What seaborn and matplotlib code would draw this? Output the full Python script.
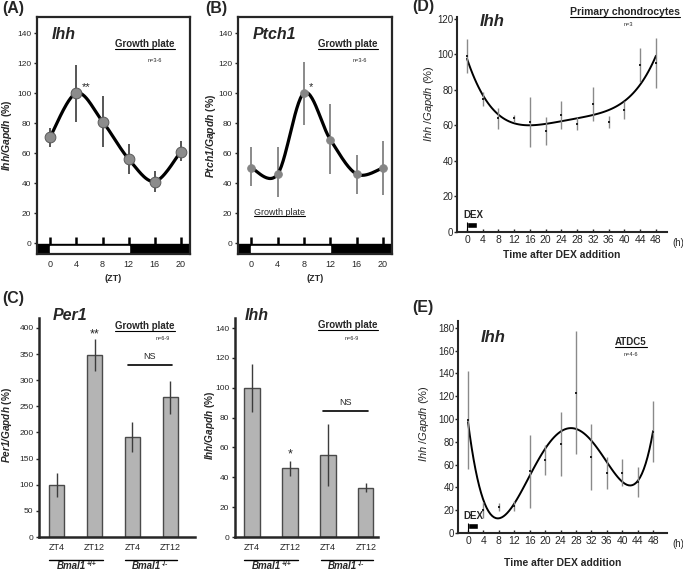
import numpy as np
import pandas as pd
import matplotlib.pyplot as plt
import seaborn as sns
from matplotlib.lines import Line2D

# ---- data ----
zt = [0, 4, 8, 12, 16, 20]
light_on, light_off = 0, 12

ihh_gp = [71, 100, 81, 56, 41, 61]
ihh_gp_lo = [64, 81, 64, 46, 34, 55]
ihh_gp_hi = [77, 119, 98, 66, 48, 68]

ptch1_gp = [50, 46, 100, 69, 46, 50]
ptch1_lo = [38, 31, 79, 46, 33, 32]
ptch1_hi = [64, 64, 121, 93, 59, 68]

bar_keys = ['WT ZT4', 'WT ZT12', 'KO ZT4', 'KO ZT12']
bar_labels = ['ZT4', 'ZT12', 'ZT4', 'ZT12']
genotypes = ['+/+', '-/-']
per1_c = [100, 348, 191, 267]
per1_c_err = [23, 31, 29, 31]
ihh_c = [100, 46, 55, 33]
ihh_c_err = [16, 5, 21, 3]

dex_h = [0, 4, 8, 12, 16, 20, 24, 28, 32, 36, 40, 44, 48]
dex_on, dex_off = 0, 2.5
ihh_prim = [99, 75, 64, 64, 62, 57, 66, 61, 72, 62, 68.5, 94, 95]
ihh_prim_err = [9.5, 4, 6, 2, 14, 8, 8, 3.5, 9.5, 3.5, 5, 9.5, 14]
ihh_atdc = [99.5, 20, 23, 24, 54, 64, 78, 123, 67, 53, 53, 45, 89]
ihh_atdc_err = [43, 7, 3.5, 4.5, 32, 13, 28, 54, 29, 14, 12, 13, 27]

sns.set_style('ticks')
plt.rcParams['font.family'] = ['Liberation Sans', 'DejaVu Sans']
plt.rcParams['mathtext.fontset'] = 'custom'
plt.rcParams['mathtext.rm'] = 'Liberation Sans'
plt.rcParams['mathtext.it'] = 'Liberation Sans:italic'
plt.rcParams['mathtext.bf'] = 'Liberation Sans:bold'
plt.rcParams['mathtext.bfit'] = 'Liberation Sans:bold:italic'

W, H = 683, 571
fig = plt.figure(figsize=(W / 100, H / 100), dpi=100)


def box(l, t, r, b):
    return [l / W, 1 - b / H, (r - l) / W, (b - t) / H]


def ftext(x, y, s, **kw):
    return fig.text(x / W, 1 - y / H, s, **kw)


underlined = []
with_sup = []


def smooth(xs, ys, n=30):
    # smoothed line through the points (Catmull-Rom, like a spreadsheet "smoothed line")
    x = np.asarray(xs, float)
    y = np.asarray(ys, float)
    px = np.r_[x[0], x, x[-1]]
    py = np.r_[y[0], y, y[-1]]
    t = np.linspace(0, 1, n)
    h00 = 2 * t**3 - 3 * t**2 + 1
    h10 = t**3 - 2 * t**2 + t
    h01 = -2 * t**3 + 3 * t**2
    h11 = t**3 - t**2
    ox, oy = [], []
    for i in range(1, len(px) - 2):
        ox.append(h00 * px[i] + h10 * (px[i + 1] - px[i - 1]) / 2 + h01 * px[i + 1] + h11 * (px[i + 2] - px[i]) / 2)
        oy.append(h00 * py[i] + h10 * (py[i + 1] - py[i - 1]) / 2 + h01 * py[i + 1] + h11 * (py[i + 2] - py[i]) / 2)
    return np.concatenate(ox), np.concatenate(oy)


# ---------- (A) and (B): growth plate time course ----------
def zt_panel(rect, vals, lo, hi, gene, ylab, lx, ms, ecol, mcol, medge):
    ax = fig.add_axes(box(*rect))
    ax.set_xlim(-2.05, 21.4)
    ax.set_ylim(-7.33, 150.7)
    ax.axhspan(-7.33, -0.8, color='black', zorder=1)
    ax.broken_barh([(light_on, light_off - light_on)], (-6.1, 4.2), facecolors='white', zorder=2)
    ax.vlines(zt, -0.8, 4.2, colors='black', lw=1.8, zorder=2)
    ax.vlines(zt, lo, hi, colors=ecol, lw=1.4, zorder=2)
    cx, cy = smooth(zt, vals)
    ax.plot(cx, cy, color='black', lw=2.3, zorder=3)
    sns.scatterplot(x=zt, y=vals, ax=ax, s=ms, color=mcol, edgecolor=medge, linewidth=0.7, zorder=4)
    ax.set_xticks(zt)
    ax.set_yticks(range(0, 141, 20))
    ax.tick_params(axis='y', length=2.5, width=1, labelsize=6, pad=1.5)
    ax.tick_params(axis='x', length=0, labelsize=6.5, pad=4)
    for s in ax.spines.values():
        s.set_linewidth(1.6)
    ax.set_xlabel('(ZT)', fontsize=6.5, fontweight='bold', labelpad=4)
    ax.text(0.25, 139, gene, fontsize=11.5, fontweight='bold', fontstyle='italic', va='center')
    ftext(lx, rect[1] + (rect[3] - rect[1]) / 2, ylab, rotation=90, ha='center', va='center',
          fontsize=7.5, fontweight='bold')
    return ax


axA = zt_panel((37, 17, 190, 254), ihh_gp, ihh_gp_lo, ihh_gp_hi, 'Ihh',
               r'$\mathbfit{Ihh/Gapdh}$ (%)', 7.5, 60, '#555555', '#8c8c8c', '#5a5a5a')
axA.text(5.45, 104, '**', fontsize=8, ha='center', va='center')
axB = zt_panel((238, 17, 392, 254), ptch1_gp, ptch1_lo, ptch1_hi, 'Ptch1',
               r'$\mathbfit{Ptch1/Gapdh}$ (%)', 211, 30, '#8a8a8a', '#858585', '#858585')
axB.text(9.0, 104, '*', fontsize=8, ha='center', va='center')
axB.text(0.4, 18.7, 'Growth plate', fontsize=6.5, va='baseline')
underlined.append(axB.texts[-1])

for x0, x1 in [(115, 178), (318, 386)]:
    underlined.append(ftext(x0, 47, 'Growth plate', fontsize=7, fontweight='bold', va='baseline'))
    ftext((x0 + x1) / 2 + 8, 61, 'n=3-6', fontsize=4, ha='center', va='center')


# ---------- (C): bar charts ----------
def bar_panel(rect, vals, errs, top, step, xr, gene, ylab, lx, star, star_y, ns_y):
    ax = fig.add_axes(box(*rect))
    df = pd.DataFrame({'key': bar_keys, 'val': vals})
    sns.barplot(data=df, x='key', y='val', order=bar_keys, width=0.4, color='#b4b4b4',
                saturation=1, edgecolor='#4a4a4a', linewidth=1, errorbar=None, ax=ax)
    ax.vlines(range(4), np.subtract(vals, errs), np.add(vals, errs), colors='#3c3c3c', lw=1, zorder=3)
    ax.set_xlim(*xr)
    ax.set_ylim(0, top)
    ax.set_yticks(range(0, int(top), step))
    ax.set_xticks(range(4))
    ax.set_xticklabels(bar_labels)
    ax.set_xlabel('')
    ax.set_ylabel('')
    sns.despine(ax=ax)
    for s in ['left', 'bottom']:
        ax.spines[s].set_linewidth(1.8)
    ax.tick_params(axis='y', length=2.5, width=1, labelsize=6, pad=1.5)
    ax.tick_params(axis='x', length=0, labelsize=6.5, pad=4)
    ax.text(1, star_y, star, fontsize=9, ha='center', va='center')
    ax.plot([1.88, 3.05], [ns_y, ns_y], color='black', lw=1.2)
    ax.text(2.45, ns_y + top * 0.04, 'NS', fontsize=6.5, ha='center', va='center')
    tr = ax.get_xaxis_transform()
    for (a, b), sup in zip([(-0.2, 1.22), (1.82, 3.18)], genotypes):
        ax.plot([a, b], [-0.105, -0.105], color='black', lw=1, transform=tr, clip_on=False)
        t = ax.text((a + b) / 2 - 0.13, -0.146, 'Bmal1', transform=tr, fontsize=7,
                    fontweight='bold', fontstyle='italic', ha='center', va='baseline')
        with_sup.append((t, sup))
    ftext(lx, 425, ylab, rotation=90, ha='center', va='center', fontsize=7.2, fontweight='bold')
    ftext(rect[0] + 14 if gene == 'Per1' else rect[0] + 10, 315, gene, fontsize=11.5,
          fontweight='bold', fontstyle='italic', va='center')
    return ax


axC1 = bar_panel((39, 318, 195, 537), per1_c, per1_c_err, 419, 50, (-0.47, 3.66), 'Per1',
                 r'$\mathbfit{Per1/Gapdh}$ (%)', 7.5, '**', 388, 329)
axC2 = bar_panel((235, 318, 378, 537), ihh_c, ihh_c_err, 146.7, 20, (-0.45, 3.32), 'Ihh',
                 r'$\mathbfit{Ihh/Gapdh}$ (%)', 210, '*', 55, 84.4)
for x0, y0 in [(115, 329), (318, 328)]:
    underlined.append(ftext(x0, y0, 'Growth plate', fontsize=7, fontweight='bold', va='baseline'))
ftext(163, 338, 'n=6-9', fontsize=4, ha='center', va='center')
ftext(352, 338, 'n=6-9', fontsize=4, ha='center', va='center')


# ---------- (D) and (E): DEX time courses ----------
def dex_panel(rect, vals, errs, top, order, xr, lab_pad, dex_y, lx, ly):
    ax = fig.add_axes(box(*rect))
    sns.regplot(x=dex_h, y=vals, order=order, ci=None, scatter=False, truncate=True, ax=ax,
                line_kws=dict(color='black', lw=1.4))
    ax.vlines(dex_h, np.subtract(vals, errs), np.add(vals, errs), colors='#8a8a8a', lw=1, zorder=2)
    sns.scatterplot(x=dex_h, y=vals, ax=ax, s=3, color='#222222', marker='s', linewidth=0, zorder=4)
    ax.set_xlim(*xr)
    ax.set_ylim(0, top)
    ax.set_xticks(dex_h)
    ax.set_yticks(range(0, int(top), 20))
    sns.despine(ax=ax)
    for s in ['left', 'bottom']:
        ax.spines[s].set_linewidth(1.5)
    ax.tick_params(axis='y', length=2, width=1, labelsize=7, pad=0.8)
    ax.tick_params(axis='x', length=2.5, width=1, direction='in', labelsize=7.5, pad=2.5)
    ax.set_xlabel('Time after DEX addition', fontsize=7.5, fontweight='bold', labelpad=lab_pad)
    ax.broken_barh([(dex_on, dex_off - dex_on)], (dex_y[0], dex_y[1] - dex_y[0]), facecolors='black')
    ax.vlines(dex_on, 0, dex_y[1], colors='black', lw=0.8)
    ax.text(1.5, dex_y[2], 'DEX', fontsize=7, fontweight='bold', ha='center', va='center')
    ftext(lx, ly, r'$\mathit{Ihh}$ /$\mathit{Gapdh}$ (%)', rotation=90, ha='center', va='center', fontsize=8)
    ftext(rect[0] + 23, rect[1] + 4 if top < 150 else rect[1] + 16, 'Ihh', fontsize=12,
          fontweight='bold', fontstyle='italic', va='center')
    ftext(678, rect[3] + 11, '(h)', fontsize=7, ha='center', va='center')
    return ax


axD = dex_panel((457, 17, 667, 232), ihh_prim, ihh_prim_err, 121, 4, (-2.54, 50.8), 3,
                (2.2, 5.6, 9.6), 429, 104)
axE = dex_panel((458, 321, 667, 533), ihh_atdc, ihh_atdc_err, 186, 6, (-2.6, 51.6), 8,
                (3.8, 9, 14.5), 424, 424)
underlined.append(ftext(680, 15, 'Primary chondrocytes', fontsize=7.5, fontweight='bold', ha='right', va='baseline'))
ftext(628, 25, 'n=3', fontsize=4, ha='center', va='center')
underlined.append(ftext(631, 345, 'ATDC5', fontsize=7, fontweight='bold', ha='center', va='baseline'))
ftext(631, 355, 'n=4-6', fontsize=4, ha='center', va='center')

# panel letters
for s, x, y in [('(A)', 2, 8), ('(B)', 205, 8), ('(C)', 2, 298), ('(D)', 412, 7), ('(E)', 412, 307)]:
    ftext(x, y, s, fontsize=11.5, fontweight='bold', va='center')

# underlines and superscripts need the rendered text extents
fig.canvas.draw()
r = fig.canvas.get_renderer()
for t in underlined:
    bb = t.get_window_extent(r)
    _, yb = t.get_transform().transform(t.get_position())
    yy = (yb - 1.5) / H
    fig.add_artist(Line2D([bb.x0 / W, bb.x1 / W], [yy, yy], color='black', lw=0.8))
for t, sup in with_sup:
    bb = t.get_window_extent(r)
    _, yb = t.get_transform().transform(t.get_position())
    fig.text((bb.x1 + 1) / W, (yb + 3.2) / H, sup, fontsize=4.8, fontweight='bold', va='baseline')

fig.savefig('out.png', dpi=100)
